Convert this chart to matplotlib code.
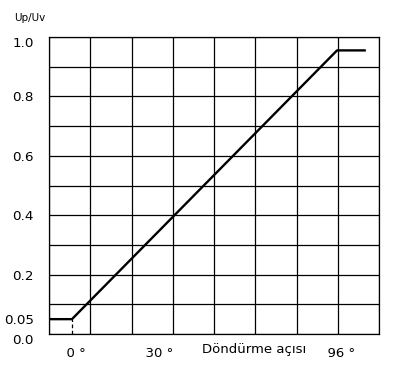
import numpy as np
import matplotlib
matplotlib.use("Agg")
import matplotlib.pyplot as plt

# 特性曲线 (示意图)
angle = [-8.3, 0, 96, 106]          # Döndürme açısı, derece
ratio = [0.05, 0.05, 0.955, 0.955]  # Up/Uv

x_ticks = [0, 30, 96]
x_labels = ["  0 °", "  30 °", "  96 °"]
y_ticks = [0.0, 0.05, 0.2, 0.4, 0.6, 0.8, 1.0]
y_labels = ["0.0", "0.05", "0.2", "0.4", "0.6", "0.8", "1.0"]

x_min, x_max = -8.3, 111.2

plt.rcParams['font.family'] = ['DejaVu Sans']

fig = plt.figure(figsize=(3.94, 3.67), dpi=100)
ax = fig.add_axes([0.1244, 0.0899, 0.8376, 0.8092])

# 网格
for gx in np.linspace(x_min, x_max, 9):
    ax.axvline(gx, color='black', lw=0.9, zorder=1)
for gy in np.arange(0, 1.01, 0.1):
    ax.axhline(gy, color='black', lw=0.9, zorder=1)

ax.plot(angle, ratio, color='black', lw=1.7, zorder=3)
ax.plot([angle[1], angle[1]], [0, ratio[1]], color='black', lw=0.9,
        ls=(0, (3, 2)), zorder=2)

ax.set_xlim(x_min, x_max)
ax.set_ylim(0, 1.0)
ax.set_xticks(x_ticks)
ax.set_xticklabels(x_labels, fontsize=9.5)
ax.set_yticks(y_ticks)
ax.set_yticklabels(y_labels, fontsize=9.7)
ax.tick_params(length=0, pad=9)
ax.tick_params(axis='y', pad=11)
yl = ax.get_yticklabels()
yl[0].set_va('top')
yl[-1].set_va('top')
for s in ax.spines.values():
    s.set_linewidth(0.9)

fig.text(14 / 394, 1 - 18 / 367, "Up/Uv", fontsize=7.5, va='center', ha='left')
fig.text(254 / 394, 1 - 350 / 367, "Döndürme açısı", fontsize=9.5,
         va='center', ha='center')

fig.savefig("out.png", dpi=100)
